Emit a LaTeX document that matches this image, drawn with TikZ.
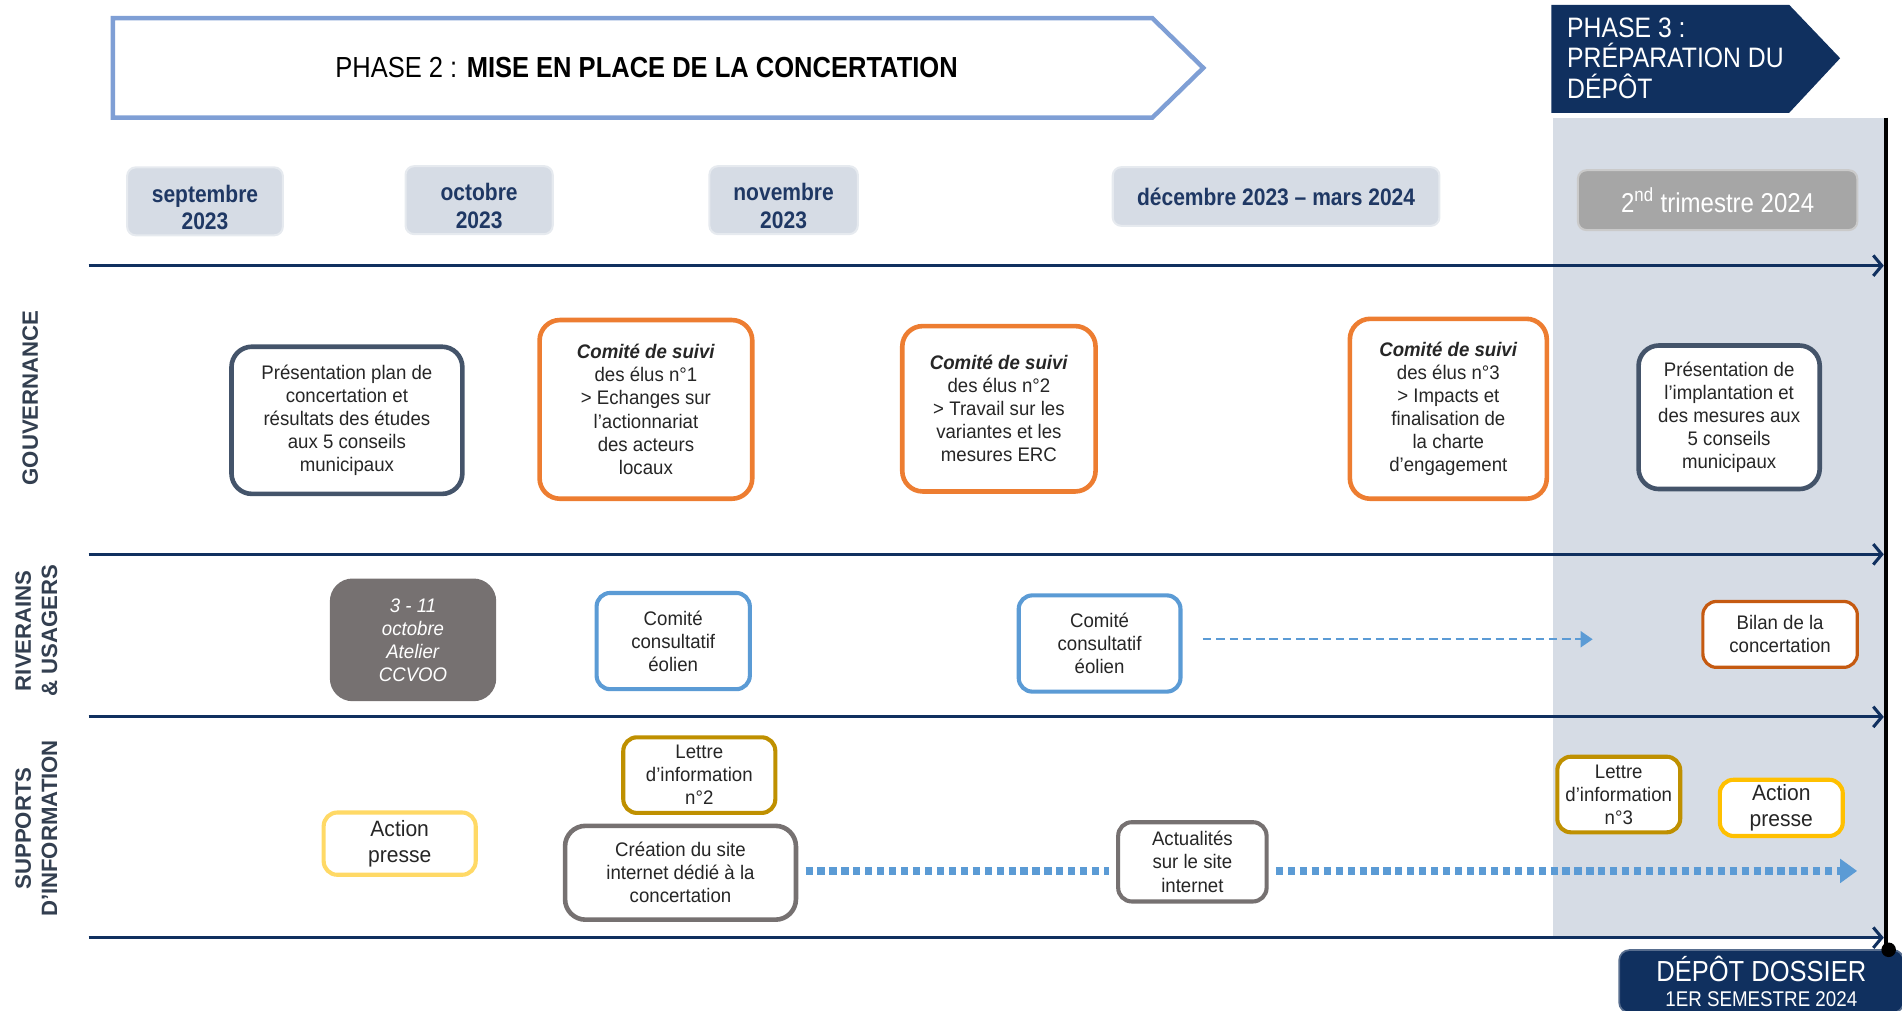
\documentclass[tikz,border=0pt]{standalone}
\usepackage{fontspec}
\setmainfont{Liberation Sans}
\newfontfamily\narrowfont[FakeStretch=0.88]{Liberation Sans}
\newfontfamily\boxfont[FakeStretch=0.95]{Liberation Sans}
\usetikzlibrary{arrows.meta}
\definecolor{navy}{HTML}{10305F}
\definecolor{datefill}{HTML}{D6DCE5}
\definecolor{datetext}{HTML}{1F3864}
\definecolor{phaseline}{HTML}{7F9FD5}
\definecolor{slate}{HTML}{44546A}
\definecolor{labelgrey}{HTML}{333F50}
\definecolor{orangebox}{HTML}{ED7D31}
\definecolor{greybox}{HTML}{767171}
\definecolor{bluebox}{HTML}{5B9BD5}
\definecolor{rustbox}{HTML}{C55A11}
\definecolor{paleyellow}{HTML}{FFD966}
\definecolor{goldbox}{HTML}{BF9000}
\definecolor{amberbox}{HTML}{FFC000}
\definecolor{greyfill}{HTML}{A6A6A6}
\newcommand{\datestrut}{\rule{0pt}{17pt}}
\begin{document}
\begin{tikzpicture}[x=0.025cm,y=-0.025cm,
  wh/.style 2 args={minimum width=#1*0.025cm-2.6pt,minimum height=#2*0.025cm-2.6pt},
  card/.style={draw,rounded corners=12pt,line width=2.7pt,fill=white,align=center,inner sep=1pt,
    text=black!85,font=\boxfont\fontsize{11.5}{13.5}\selectfont},
  smallcard/.style={card,rounded corners=8pt,line width=2.4pt},
  datebox/.style={fill=datefill,draw=datefill!60!white,line width=1.2pt,rounded corners=5pt,align=center,
    text=datetext,font=\narrowfont\bfseries\fontsize{14}{16}\selectfont},
  rowlabel/.style={rotate=90,align=center,text=labelgrey,font=\bfseries\fontsize{13}{15.5}\selectfont},
  timeline/.style={navy,line width=1.8pt,-{Straight Barb[length=5pt,width=12pt]}},
  dasharrow/.style={bluebox,line width=1.4pt,dash pattern=on 5pt off 2.8pt,-{Triangle[length=0.25cm,width=0.33cm]}},
  dotline/.style={bluebox,line width=5pt,dash pattern=on 4.2pt off 2.8pt}]
  \useasboundingbox (0,0) rectangle (1568,833);

  \fill[datefill] (1280,97) rectangle (1555,773);

  \draw[phaseline,line width=2.6pt] (93,15) -- (950,15) -- (992,56) -- (950,97) -- (93,97) -- cycle;
  \node[font=\narrowfont\fontsize{17}{19}\selectfont] (phase2) at (533,56) {PHASE 2 : \textbf{MISE EN PLACE DE LA CONCERTATION}};
  \fill[navy] (1279,4) -- (1475,4) -- (1517,48) -- (1475,93) -- (1279,93) -- cycle;
  \node[anchor=west,align=left,text=white,font=\narrowfont\fontsize{16.5}{18}\selectfont] (phase3) at (1287,48) {PHASE 3 :\\PRÉPARATION DU\\DÉPÔT};

  \node[datebox,wh={132}{52}] (sep) at (169,166) {\datestrut septembre\\2023};
  \node[datebox,wh={125}{51}] (oct) at (395,165) {\datestrut octobre\\2023};
  \node[datebox,wh={126}{51}] (nov) at (646,165) {\datestrut novembre\\2023};
  \node[datebox,wh={273}{52}] (dec) at (1052,162) {décembre 2023 – mars 2024};
  \node[datebox,fill=greyfill,draw=greyfill!60!white,text=white,font=\narrowfont\fontsize{16}{18}\selectfont,wh={234}{53}] (tri) at (1416,165) {2\textsuperscript{nd} trimestre 2024};

  \foreach \y in {219,457,591,773}
    \draw[timeline] (73,\y) -- (1553,\y);

  \node[rowlabel] (gouv) at (25,328) {GOUVERNANCE};
  \node[rowlabel] (riv) at (30,520) {RIVERAINS\\\& USAGERS};
  \node[rowlabel] (supp) at (30,683) {SUPPORTS\\D’INFORMATION};

  \node[card,draw=slate,wh={194}{125}] (plan) at (286,346.5) {Présentation plan de\\concertation et\\résultats des études\\aux 5 conseils\\municipaux};
  \node[card,draw=orangebox,wh={179}{151}] (cs1) at (532.5,337.5) {\textbf{\textit{Comité de suivi}}\\des élus n°1\\> Echanges sur\\l’actionnariat\\des acteurs\\locaux};
  \node[card,draw=orangebox,wh={163}{140}] (cs2) at (823.5,337) {\textbf{\textit{Comité de suivi}}\\des élus n°2\\> Travail sur les\\variantes et les\\mesures ERC};
  \node[card,draw=orangebox,wh={166}{152}] (cs3) at (1194,337) {\textbf{\textit{Comité de suivi}}\\des élus n°3\\> Impacts et\\finalisation de\\la charte\\d’engagement};
  \node[card,draw=slate,wh={153}{122}] (impl) at (1425.5,344) {Présentation de\\l’implantation et\\des mesures aux\\5 conseils\\municipaux};

  \node[card,draw=greybox,fill=greybox,text=white,wh={137}{101}] (atelier) at (340.5,527.5) {\textit{3 - 11}\\\textit{octobre}\\\textit{Atelier}\\\textit{CCVOO}};
  \node[smallcard,draw=bluebox,wh={130}{83}] (cce1) at (555,528.5) {Comité\\consultatif\\éolien};
  \node[smallcard,draw=bluebox,wh={137}{83}] (cce2) at (906.5,530.5) {Comité\\consultatif\\éolien};
  \node[smallcard,draw=rustbox,line width=1.9pt,wh={131}{58}] (bilan) at (1467.5,523) {Bilan de la\\concertation};
  \coordinate (bilanarrow) at (1313,527);
  \draw[dasharrow,shorten <=0.42cm] (cce2.east |- bilanarrow) -- (bilanarrow);

  \node[smallcard,draw=paleyellow,font=\boxfont\fontsize{13}{15.5}\selectfont,wh={129}{55}] (presse1) at (329.5,695.5) {Action\\presse};
  \node[smallcard,draw=goldbox,wh={129}{66}] (lettre2) at (576.5,639) {Lettre\\d’information\\n°2};
  \node[card,draw=greybox,wh={194}{81}] (site) at (561,719.5) {Création du site\\internet dédié à la\\concertation};
  \node[smallcard,draw=greybox,wh={126}{69}] (actu) at (983,710.5) {Actualités\\sur le site\\internet};
  \node[smallcard,draw=goldbox,wh={105}{66}] (lettre3) at (1334.5,655) {Lettre\\d’information\\n°3};
  \node[smallcard,draw=amberbox,font=\boxfont\fontsize{13}{15.5}\selectfont,wh={105}{50}] (presse2) at (1468.5,666) {Action\\presse};
  \coordinate (webend) at (1531,718);
  \draw[dotline,shorten <=0.15cm,shorten >=0.15cm] (site.east |- webend) -- (actu.west |- webend);
  \draw[dotline,shorten <=0.15cm,-{Triangle[length=0.35cm,width=0.48cm]}] (actu.east |- webend) -- (webend);

  \node[fill=navy,draw=navy!70!white,line width=1pt,rounded corners=6pt,text=white,align=center,
    font=\narrowfont\fontsize{17}{19}\selectfont,wh={238}{50}] (depot) at (1452,809)
    {DÉPÔT DOSSIER\\[-4pt]{\fontsize{12.5}{14}\selectfont 1ER SEMESTRE 2024}};

  \draw[line width=2.2pt] (1555,97) -- (1555,783);
  \fill (1557,783) circle[radius=0.15cm];
\end{tikzpicture}
\end{document}
